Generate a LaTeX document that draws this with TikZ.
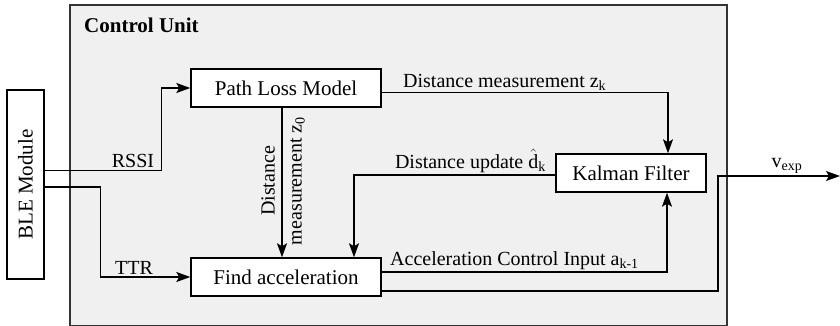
\documentclass[tikz,border=0pt]{standalone}
\usepackage{amsmath}
\usepackage{fontspec}
\setmainfont{Liberation Serif}
\usetikzlibrary{arrows.meta}
\tikzset{
  block/.style={draw, line width=1.4pt, fill=white, font=\fontsize{21}{25}\selectfont, inner sep=0pt},
  lbl/.style={font=\fontsize{20}{26}\selectfont, inner sep=2pt},
  flow/.style={line width=1.4pt, -{Stealth[length=14pt,width=10pt,inset=3pt]}}
}
\begin{document}
\begin{tikzpicture}[x=1pt,y=-1pt]
      \useasboundingbox (0,0) rectangle (840,326);
      \draw[draw=black!80, line width=1.3pt, fill=black!6] (70,5) rectangle (727,325.5);
      \node[anchor=base west, font=\fontsize{21}{25}\selectfont\bfseries, inner sep=0pt] (cu) at (84,33) {Control Unit};
      \node[block, minimum width=190pt, minimum height=38pt] (plm) at (286,88) {Path Loss Model};
      \node[block, minimum width=190pt, minimum height=38pt] (fa) at (286,277) {Find acceleration};
      \node[block, minimum width=150pt, minimum height=38pt] (kf) at (631,173) {Kalman Filter};
      \node[block, rotate=90, minimum width=189pt, minimum height=37pt] (ble) at (25.5,184.5) {BLE Module};
      \coordinate (out) at (840,176);
      \begin{scope}[flow]
        \draw ([yshift=14pt]ble.south) -- ++(117,0) |- (plm.west);
        \draw ([yshift=-2.5pt]ble.south) -- ++(56,0) |- (fa.west);
        \draw ([xshift=-4pt]plm.south) -- ([xshift=-4pt]fa.north);
        \draw ([yshift=-4.5pt]plm.east) -| ([xshift=37pt]kf.north);
        \draw ([yshift=-2pt]kf.west) -| ([xshift=68pt]fa.north);
        \draw ([yshift=5pt]fa.east) -| ([xshift=36pt]kf.south);
        \draw ([yshift=-14pt]fa.east) -| (718,176) -- (out);
      \end{scope}
      \node[lbl, anchor=south] (rssi) at (133,170) {RSSI};
      \node[lbl, anchor=south] (ttr) at (134,277) {TTR};
      \node[lbl, rotate=90, align=center, font=\fontsize{20}{27}\selectfont] (z0) at (283,181) {Distance\\measurement z\textsubscript{0}};
      \node[lbl, anchor=south west] (zk) at (401,92.5) {Distance measurement z\textsubscript{k}};
      \node[lbl, anchor=south east] (dk) at (548,175) {Distance update $\hat{\text{d}}$\textsubscript{k}};
      \node[lbl, anchor=south west] (ak) at (388,272) {Acceleration Control Input a\textsubscript{k-1}};
      \node[lbl, anchor=south] (vexp) at (787,176) {v\textsubscript{exp}};
    \end{tikzpicture}
\end{document}
